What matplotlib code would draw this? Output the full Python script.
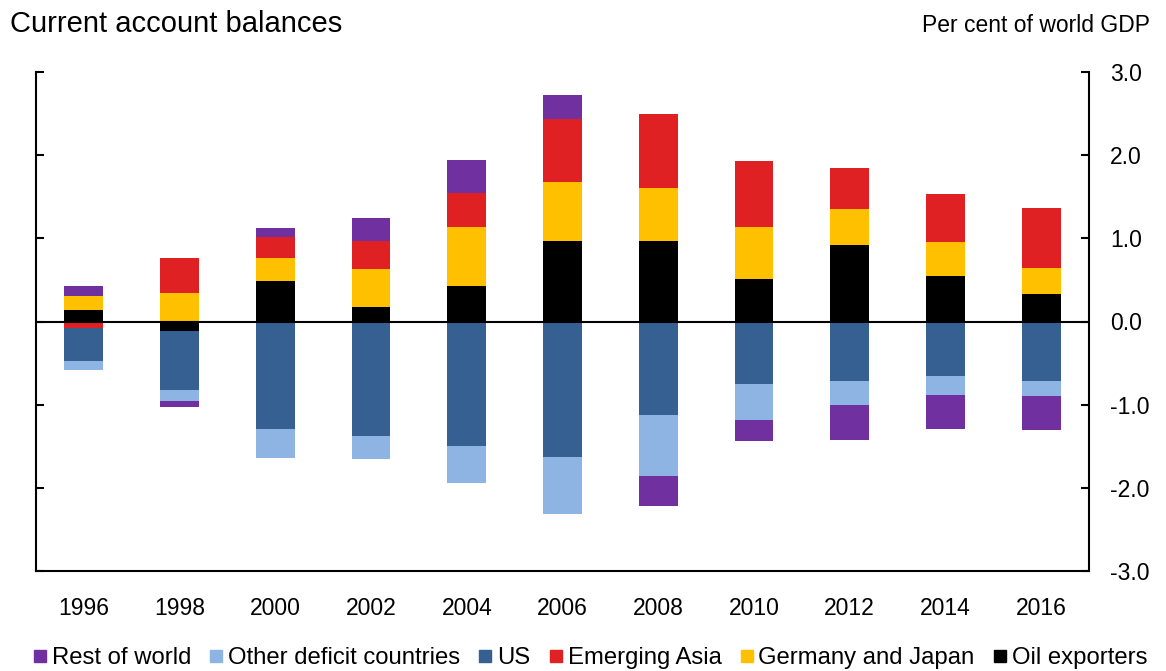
import numpy as np
import matplotlib
matplotlib.use('Agg')
import matplotlib.pyplot as plt
from matplotlib.lines import Line2D
from matplotlib.ticker import FuncFormatter

plt.rcParams['font.family'] = ['Liberation Sans', 'DejaVu Sans']

years = ['1996', '1998', '2000', '2002', '2004', '2006', '2008', '2010', '2012', '2014', '2016']

# per cent of world GDP, in stacking order
oil_exporters = [0.14, -0.11, 0.49, 0.17, 0.43, 0.97, 0.97, 0.51, 0.92, 0.55, 0.33]
germany_japan = [0.17, 0.34, 0.27, 0.46, 0.71, 0.71, 0.63, 0.63, 0.43, 0.41, 0.31]
emerging_asia = [-0.08, 0.42, 0.26, 0.34, 0.41, 0.76, 0.89, 0.79, 0.49, 0.57, 0.73]
us = [-0.40, -0.71, -1.29, -1.38, -1.50, -1.63, -1.12, -0.75, -0.71, -0.65, -0.71]
other_deficit = [-0.10, -0.13, -0.35, -0.27, -0.44, -0.69, -0.74, -0.44, -0.29, -0.23, -0.19]
rest_of_world = [0.12, -0.08, 0.10, 0.27, 0.39, 0.28, -0.36, -0.25, -0.43, -0.41, -0.40]

series = [
    ('Oil exporters', oil_exporters, '#000000'),
    ('Germany and Japan', germany_japan, '#FFC000'),
    ('Emerging Asia', emerging_asia, '#E02124'),
    ('US', us, '#366092'),
    ('Other deficit countries', other_deficit, '#8EB4E3'),
    ('Rest of world', rest_of_world, '#7030A0'),
]

fig = plt.figure(figsize=(11.66, 6.71), dpi=100)
ax = fig.add_axes([36 / 1166, 1 - 571 / 671, (1089 - 36) / 1166, (571 - 72) / 671])

x = np.arange(len(years))
pos = np.zeros(len(years))
neg = np.zeros(len(years))
for name, vals, color in series:
    v = np.array(vals)
    bottom = np.where(v >= 0, pos, neg)
    ax.bar(x, v, width=0.405, bottom=bottom, color=color, linewidth=0, zorder=2)
    pos = pos + np.where(v >= 0, v, 0)
    neg = neg + np.where(v < 0, v, 0)

ax.axhline(0, color='black', lw=1.5, zorder=3)

ax.set_xlim(-0.5, len(years) - 0.5)
ax.set_ylim(-3, 3)
ax.set_yticks([-3, -2, -1, 0, 1, 2, 3])
ax.yaxis.set_major_formatter(FuncFormatter(lambda v, p: f'{v:.1f}'))
ax.set_xticks(x)
ax.set_xticklabels(years)

for s in ['left', 'right', 'bottom']:
    ax.spines[s].set_linewidth(1.5)
ax.spines['top'].set_visible(False)

ax.tick_params(axis='y', left=True, right=True, labelleft=False, labelright=True,
               direction='in', length=6, width=1.5, pad=15, labelsize=16.5)
ax.tick_params(axis='x', length=0, pad=19, labelsize=16.5)

fig.text(10 / 1166, 1 - 32 / 671, 'Current account balances', fontsize=21, va='baseline', ha='left')
fig.text(1150 / 1166, 1 - 32 / 671, 'Per cent of world GDP', fontsize=16.5, va='baseline', ha='right')

handles = []
labels = []
for name, vals, color in reversed(series):
    handles.append(Line2D([], [], marker='s', ls='', color=color, markersize=8))
    labels.append(name)
fig.legend(handles, labels, loc='center', bbox_to_anchor=(590 / 1166, 1 - 658 / 671), ncol=6,
           frameon=False, fontsize=17.2, handlelength=0.6, handletextpad=0.2,
           columnspacing=0.75, borderpad=0)

fig.savefig('out.png', dpi=100)
